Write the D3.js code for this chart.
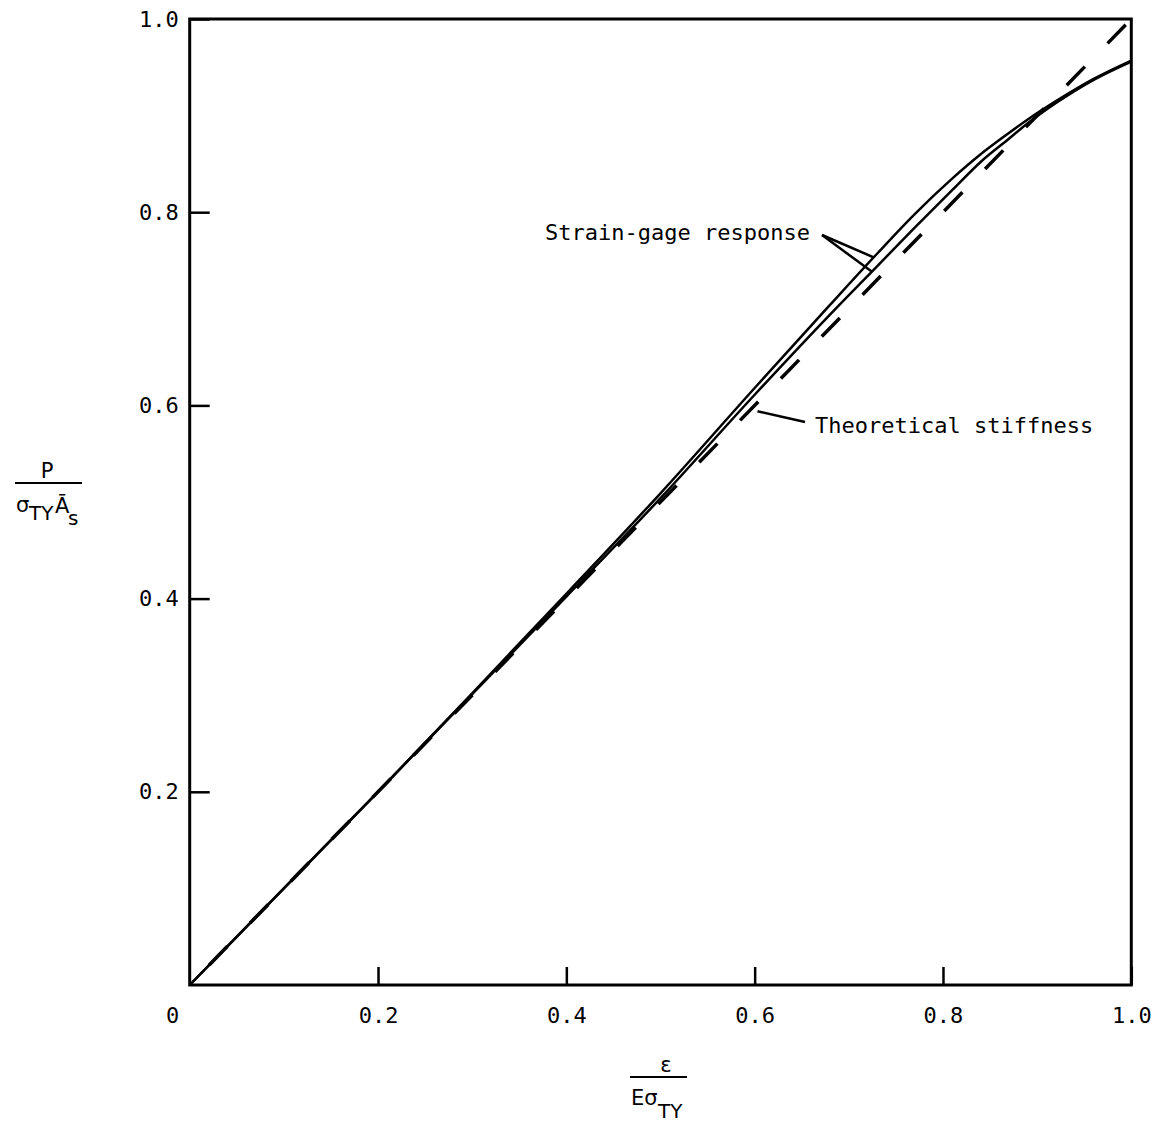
<!DOCTYPE html>
<html>
<head>
<meta charset="utf-8">
<script src="https://cdn.jsdelivr.net/npm/d3@7"></script>
<style>
  body { margin: 0; background: #fff; }
  text { fill: #000; }
  .mono { font-family: "DejaVu Sans Mono", "Liberation Mono", monospace; font-size: 22px; }
  .sym { font-family: "DejaVu Sans", "Noto Sans", sans-serif; }
</style>
</head>
<body>
<div id="chart"></div>
<script>
// values
var xTicks = [0.2, 0.4, 0.6, 0.8, 1.0];
var yTicks = [0.2, 0.4, 0.6, 0.8, 1.0];
var theoryX = [1, 0];
var theoryY = [1, 0];
var gageX  = [0, 0.1, 0.2, 0.3, 0.4, 0.5, 0.6, 0.68, 0.73, 0.77, 0.81, 0.84, 0.87, 0.89, 0.92, 0.96, 1.0];
var gage1Y = [0, 0.1, 0.2, 0.302, 0.405, 0.509, 0.618, 0.704, 0.757, 0.798, 0.835, 0.86, 0.882, 0.896, 0.915, 0.938, 0.957];
var gage2Y = [0, 0.1, 0.2, 0.301, 0.402, 0.504, 0.611, 0.694, 0.744, 0.784, 0.823, 0.852, 0.876, 0.892, 0.913, 0.937, 0.956];

var margin = {top: 19, right: 30.7, bottom: 143, left: 189.7},
    width = 1162 - margin.left - margin.right,
    height = 1128 - margin.top - margin.bottom;

var svg = d3.select("#chart")
  .append("svg")
    .attr("width", 1162)
    .attr("height", 1128)
  .append("g")
    .attr("transform", "translate(" + margin.left + "," + margin.top + ")");

var x = d3.scaleLinear().domain([0, 1]).range([0, width]);
var y = d3.scaleLinear().domain([0, 1]).range([height, 0]);

// frame
svg.append("rect")
  .attr("x", x(0)).attr("y", y(1))
  .attr("width", x(1) - x(0)).attr("height", y(0) - y(1))
  .attr("fill", "none").attr("stroke", "#000").attr("stroke-width", 3);

// ticks point inward
var gx = svg.append("g")
  .attr("class", "mono")
  .attr("transform", "translate(0," + height + ")")
  .call(d3.axisBottom(x).tickValues(xTicks).tickSizeInner(-18).tickSizeOuter(0)
    .tickPadding(22).tickFormat(d3.format(".1f")));
gx.select(".domain").remove();
gx.selectAll("line").attr("stroke-width", 2.5);
gx.selectAll("text").attr("font-size", 22).attr("font-family", null);

var gy = svg.append("g")
  .attr("class", "mono")
  .call(d3.axisLeft(y).tickValues(yTicks).tickSizeInner(-20).tickSizeOuter(0)
    .tickPadding(11).tickFormat(d3.format(".1f")));
gy.select(".domain").remove();
gy.selectAll("line").attr("stroke-width", 2.5);
gy.selectAll("text").attr("font-size", 22).attr("font-family", null);

// shared zero at the corner
svg.append("text")
  .attr("class", "mono")
  .attr("x", x(0) - 17).attr("y", y(0) + 38)
  .attr("text-anchor", "middle")
  .text("0");

// curves
var line = d3.line()
  .x(function (d) { return x(d[0]); })
  .y(function (d) { return y(d[1]); });

svg.append("path")
  .datum(d3.zip(theoryX, theoryY))
  .attr("d", line)
  .attr("fill", "none")
  .attr("stroke", "#000")
  .attr("stroke-width", 3.5)
  .attr("stroke-dasharray", "26,32.5")
  .attr("stroke-dashoffset", 50.5);

var curve = d3.line()
  .curve(d3.curveMonotoneX)
  .x(function (d) { return x(d[0]); })
  .y(function (d) { return y(d[1]); });

[gage1Y, gage2Y].forEach(function (ys) {
  svg.append("path")
    .datum(d3.zip(gageX, ys))
    .attr("d", curve)
    .attr("fill", "none")
    .attr("stroke", "#000")
    .attr("stroke-width", 2.5);
});

// annotations
svg.append("text")
  .attr("class", "mono")
  .attr("x", 545 - margin.left).attr("y", 240 - margin.top)
  .text("Strain-gage response");
var gx1 = 0.727, gx2 = 0.725;
var g1 = d3.interpolateNumber(0.744, 0.784);
svg.append("line")
  .attr("x1", 822 - margin.left).attr("y1", 235 - margin.top)
  .attr("x2", x(gx1)).attr("y2", y(gx1 + 0.026))
  .attr("stroke", "#000").attr("stroke-width", 2.5);
svg.append("line")
  .attr("x1", 822 - margin.left).attr("y1", 235 - margin.top)
  .attr("x2", x(gx2)).attr("y2", y(gx2 + 0.013))
  .attr("stroke", "#000").attr("stroke-width", 2.5);

svg.append("text")
  .attr("class", "mono")
  .attr("x", 815 - margin.left).attr("y", 433 - margin.top)
  .text("Theoretical stiffness");
svg.append("line")
  .attr("x1", 805 - margin.left).attr("y1", 422 - margin.top)
  .attr("x2", x(0.603)).attr("y2", y(0.594))
  .attr("stroke", "#000").attr("stroke-width", 2.5);

// axis titles (stacked fractions), page coordinates
var page = d3.select("svg");

page.append("text").attr("class", "sym").attr("x", 47).attr("y", 478)
  .attr("text-anchor", "middle").attr("font-size", 21).text("P");
page.append("line").attr("x1", 15).attr("x2", 82).attr("y1", 483).attr("y2", 483)
  .attr("stroke", "#000").attr("stroke-width", 2);
page.append("text").attr("class", "sym").attr("x", 16).attr("y", 512)
  .attr("font-size", 21).text("σ");
page.append("text").attr("class", "sym").attr("x", 29).attr("y", 520)
  .attr("font-size", 20).text("TY");
page.append("text").attr("class", "sym").attr("x", 55).attr("y", 513)
  .attr("font-size", 21).text("Ā");
page.append("text").attr("class", "sym").attr("x", 68).attr("y", 525)
  .attr("font-size", 20).text("s");

page.append("text").attr("class", "sym").attr("x", 666).attr("y", 1072)
  .attr("text-anchor", "middle").attr("font-size", 21).text("ε");
page.append("line").attr("x1", 630).attr("x2", 687).attr("y1", 1077).attr("y2", 1077)
  .attr("stroke", "#000").attr("stroke-width", 2);
page.append("text").attr("class", "sym").attr("x", 631).attr("y", 1105)
  .attr("font-size", 21).text("Eσ");
page.append("text").attr("class", "sym").attr("x", 658).attr("y", 1118)
  .attr("font-size", 20).text("TY");
</script>
</body>
</html>
